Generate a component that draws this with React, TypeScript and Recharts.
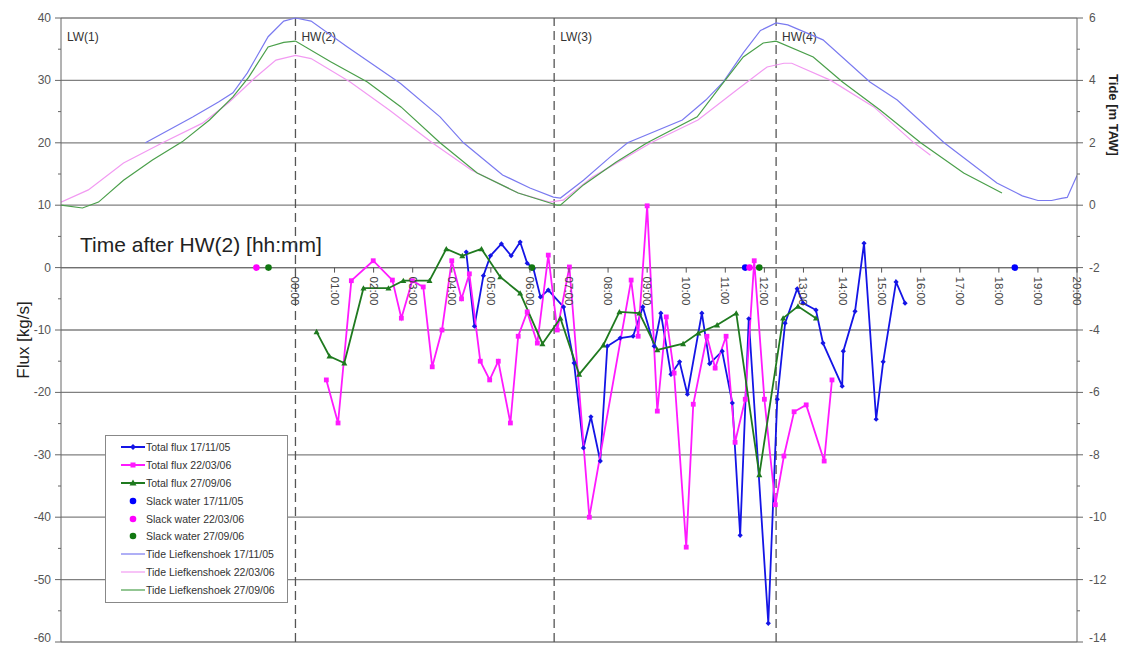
import React from 'react'
import { ComposedChart, Line, XAxis, YAxis, ReferenceLine, Legend } from 'recharts'

// hours after HW(2)
const hourTicks = [0, 1, 2, 3, 4, 5, 6, 7, 8, 9, 10, 11, 12, 13, 14, 15, 16, 17, 18, 19, 20]
const fluxTicks = [-60, -55, -50, -45, -40, -35, -30, -25, -20, -15, -10, -5, 0, 5, 10, 15, 20, 25, 30, 35, 40]
const tideTicks = [-14, -13, -12, -11, -10, -9, -8, -7, -6, -5, -4, -3, -2, -1, 0, 1, 2, 3, 4, 5, 6]
const gridFlux = [-60, -50, -40, -30, -20, -10, 0, 10, 20, 30, 40]
const events = [
  { t: -6, name: 'LW(1)' },
  { t: 0, name: 'HW(2)' },
  { t: 6.62, name: 'LW(3)' },
  { t: 12.3, name: 'HW(4)' },
]

const tideNov = [
  [-3.84, 2.0], [-2.63, 2.83], [-1.97, 3.31], [-1.6, 3.6], [-1.23, 4.24], [-0.7, 5.4], [-0.3, 5.9], [0, 6.0],
  [0.4, 5.9], [1.33, 5.07], [2.69, 3.9], [3.7, 2.83], [4.3, 2.0], [5.3, 0.97], [6.0, 0.55], [6.6, 0.26],
  [6.78, 0.23], [7.37, 0.8], [8.05, 1.54], [8.5, 2.0], [9.9, 2.73], [10.5, 3.37], [10.95, 3.95], [11.46, 4.88],
  [11.9, 5.6], [12.3, 5.84], [12.6, 5.78], [13.5, 5.3], [14.7, 3.95], [15.4, 3.37], [16.6, 2.0], [17.95, 0.71],
  [18.6, 0.3], [19.0, 0.15], [19.35, 0.15], [19.6, 0.22], [19.75, 0.25], [20, 0.95],
]
const tideMar = [
  [-6, 0.1], [-5.3, 0.49], [-4.4, 1.35], [-3.4, 2.0], [-2.38, 2.63], [-1.7, 3.3], [-1.02, 4.1], [-0.5, 4.65],
  [0, 4.8], [0.4, 4.7], [1.4, 3.95], [2.4, 3.05], [3.5, 2.0], [4.5, 1.13], [5.7, 0.39], [6.5, 0.1],
  [6.85, 0.16], [7.6, 0.9], [9.1, 2.0], [10.3, 2.73], [11.3, 3.7], [12.07, 4.43], [12.5, 4.55], [12.7, 4.55],
  [13.7, 4.0], [14.8, 3.15], [15.8, 2.03], [16.25, 1.6],
]
const tideSep = [
  [-6, 0.0], [-5.45, -0.09], [-5.04, 0.1], [-4.4, 0.8], [-3.66, 1.45], [-2.9, 2.03], [-2.2, 2.73], [-1.6, 3.47],
  [-1.2, 4.1], [-0.7, 5.07], [-0.3, 5.22], [0, 5.26], [0.9, 4.6], [1.84, 3.95], [2.7, 3.15], [3.7, 2.0],
  [4.65, 1.03], [5.7, 0.39], [6.7, 0.0], [6.78, 0.0], [7.37, 0.65], [8.2, 1.38], [9.0, 2.0], [10.28, 2.83],
  [10.87, 3.8], [11.46, 4.75], [11.97, 5.2], [12.3, 5.26], [13.25, 4.75], [14.0, 3.95], [14.96, 3.05],
  [16.0, 2.0], [17.1, 1.03], [18.08, 0.39],
]

const fluxNov = [
  [4.37, 2.5], [4.58, -9.4], [4.81, -1.3], [4.99, 1.9], [5.27, 3.8], [5.52, 1.9], [5.75, 4.1], [5.93, 0.7],
  [6.09, -0.2], [6.27, -4.7], [6.47, -3.6], [6.86, -6.3], [7.13, -15.3], [7.37, -28.9], [7.56, -23.9],
  [7.8, -31.0], [7.98, -12.6], [8.31, -11.3], [8.64, -11.0], [8.89, -6.3], [9.18, -12.6], [9.35, -7.3],
  [9.61, -17.1], [9.83, -15.1], [10.03, -20.3], [10.4, -7.3], [10.6, -15.4], [10.92, -13.4], [11.18, -21.7],
  [11.38, -42.9], [11.6, -8.2], [12.1, -57.0], [12.33, -21.1], [12.53, -8.9], [12.84, -3.4], [12.99, -5.7],
  [13.32, -6.8], [13.5, -12.1], [13.99, -19.0], [14.02, -13.4], [14.32, -7.0], [14.55, 3.9], [14.86, -24.3],
  [15.04, -15.1], [15.37, -2.3], [15.6, -5.7],
]
const fluxMar = [
  [0.79, -18.0], [1.09, -24.9], [1.43, -2.1], [1.99, 1.1], [2.48, -2.0], [2.71, -8.1], [2.99, -2.1],
  [3.27, -3.1], [3.5, -15.9], [3.75, -10.0], [4.0, 1.1], [4.25, -5.0], [4.45, -1.0], [4.73, -15.0],
  [4.97, -18.0], [5.19, -15.0], [5.5, -24.9], [5.7, -11.0], [5.93, -7.1], [6.19, -12.1], [6.47, 2.0],
  [6.7, -10.0], [7.01, 0.1], [7.52, -40.0], [8.59, -2.0], [8.77, -11.0], [9.0, 9.9], [9.26, -23.0],
  [9.49, -7.9], [9.69, -16.9], [10.0, -44.8], [10.18, -21.9], [10.53, -11.0], [10.74, -16.1], [11.02, -11.0],
  [11.25, -28.0], [11.51, -21.1], [11.74, 1.1], [12.0, -21.1], [12.28, -38.0], [12.5, -30.2], [12.76, -23.1],
  [13.07, -22.0], [13.53, -31.0], [13.73, -18.0],
]
const fluxSep = [
  [0.54, -10.3], [0.87, -14.2], [1.25, -15.3], [1.74, -3.3], [2.38, -3.3], [2.76, -2.1], [3.43, -2.1],
  [3.86, 3.0], [4.27, 1.9], [4.76, 3.0], [5.24, -1.5], [5.75, -4.1], [6.32, -12.2], [6.78, -8.1],
  [7.26, -17.1], [7.88, -12.4], [8.29, -7.1], [8.8, -7.3], [9.26, -13.2], [9.92, -12.2], [10.31, -10.5],
  [10.79, -9.2], [11.28, -7.3], [11.87, -33.2], [12.48, -8.1], [12.86, -6.2], [13.32, -8.1],
]

const slackNov = [[11.51, 0], [18.41, 0]]
const slackMar = [[-1.0, 0], [11.62, 0]]
const slackSep = [[-0.69, 0], [6.05, 0], [11.87, 0]]

const W = 1122
const H = 646
const PLOT_L = 61
const PLOT_R = 1077
const PLOT_T = 18
const PLOT_B = 642
const ZERO_Y = PLOT_T + 0.4 * (PLOT_B - PLOT_T)

const BLUE = '#1414e6'
const PINK = '#ff1aff'
const GREEN = '#1f7a1f'

const pts = (arr: number[][]) => arr.map(([t, v]) => ({ t, v }))

const diamond = (color: string, s: number) => (p: any) =>
  p.cx == null ? <g key={p.index} /> : (
    <path key={p.index} d={`M${p.cx},${p.cy - s}L${p.cx + s},${p.cy}L${p.cx},${p.cy + s}L${p.cx - s},${p.cy}Z`} fill={color} />
  )
const square = (color: string, s: number) => (p: any) =>
  p.cx == null ? <g key={p.index} /> : <rect key={p.index} x={p.cx - s} y={p.cy - s} width={2 * s} height={2 * s} fill={color} />
const triangle = (color: string, s: number) => (p: any) =>
  p.cx == null ? <g key={p.index} /> : (
    <path key={p.index} d={`M${p.cx},${p.cy - s}L${p.cx + s},${p.cy + s * 0.8}L${p.cx - s},${p.cy + s * 0.8}Z`} fill={color} />
  )
const circle = (color: string, r: number) => (p: any) =>
  p.cx == null ? <g key={p.index} /> : <circle key={p.index} cx={p.cx} cy={p.cy} r={r} fill={color} />

function HourTick({ x, payload }: any) {
  const label = `${String(payload.value).padStart(2, '0')}:00`
  const y0 = ZERO_Y + 9
  return (
    <g>
      <line x1={x} x2={x} y1={ZERO_Y} y2={ZERO_Y + 5} stroke="#555" />
      <text x={x} y={y0} dy={4} transform={`rotate(90, ${x}, ${y0})`} fontSize={11.5} fill="#444" textAnchor="start">
        {label}
      </text>
    </g>
  )
}

// bottom labels sit on the picture edge, lift them a little so they stay whole
const labelDy = (y: number) => (y > PLOT_B - 2 ? 0 : 4)

function FluxTick({ y, payload }: any) {
  const major = payload.value % 10 === 0
  return (
    <g>
      <line x1={PLOT_L - (major ? 6 : 3)} x2={PLOT_L} y1={y} y2={y} stroke="#666" />
      {major && (
        <text x={PLOT_L - 10} y={y} dy={labelDy(y)} textAnchor="end" fontSize={12} fill="#555">{payload.value}</text>
      )}
    </g>
  )
}

function TideTick({ y, payload }: any) {
  const major = payload.value % 2 === 0
  return (
    <g>
      <line x1={PLOT_R} x2={PLOT_R + (major ? 6 : 3)} y1={y} y2={y} stroke="#666" />
      {major && (
        <text x={PLOT_R + 12} y={y} dy={labelDy(y)} textAnchor="start" fontSize={12} fill="#555">{payload.value}</text>
      )}
    </g>
  )
}

const legendItems = [
  { label: 'Total flux 17/11/05', color: BLUE, line: true, mark: 'diamond' },
  { label: 'Total flux 22/03/06', color: PINK, line: true, mark: 'square' },
  { label: 'Total flux 27/09/06', color: GREEN, line: true, mark: 'triangle' },
  { label: 'Slack water 17/11/05', color: '#0000ff', line: false, mark: 'circle' },
  { label: 'Slack water 22/03/06', color: '#ff00ff', line: false, mark: 'circle' },
  { label: 'Slack water 27/09/06', color: '#117711', line: false, mark: 'circle' },
  { label: 'Tide Liefkenshoek 17/11/05', color: '#7a7af0', line: true, mark: '' },
  { label: 'Tide Liefkenshoek 22/03/06', color: '#f29af2', line: true, mark: '' },
  { label: 'Tide Liefkenshoek 27/09/06', color: '#4a9f4a', line: true, mark: '' },
]

function LegendBox() {
  return (
    <div style={{ border: '1px solid #888', background: '#fff', padding: '2px 0 3px 0', width: 181 }}>
      {legendItems.map((it) => (
        <div key={it.label} style={{ display: 'flex', alignItems: 'center', height: 17.9 }}>
          <svg width={40} height={18}>
            {it.line && <line x1={15} x2={39} y1={9} y2={9} stroke={it.color} strokeWidth={it.mark ? 2 : 1.2} />}
            {it.mark === 'diamond' && <path d="M27,6L30,9L27,12L24,9Z" fill={it.color} />}
            {it.mark === 'square' && <rect x={24.5} y={6.5} width={5} height={5} fill={it.color} />}
            {it.mark === 'triangle' && <path d="M27,5.5L30.5,11.5L23.5,11.5Z" fill={it.color} />}
            {it.mark === 'circle' && <circle cx={27} cy={9} r={3.3} fill={it.color} />}
          </svg>
          <span style={{ fontSize: 10.5, color: '#333' }}>{it.label}</span>
        </div>
      ))}
    </div>
  )
}

const eventLabel = (name: string) => (p: any) => (
  <text x={p.viewBox.x + 6} y={p.viewBox.y + 23} fontSize={12} fill="#333">{name}</text>
)

export default function App() {
  return (
    <div style={{ position: 'absolute', left: 0, top: 0, fontFamily: '"Liberation Sans", Arial, sans-serif', background: '#fff' }}>
      <ComposedChart width={W} height={H} margin={{ top: PLOT_T, right: 15, bottom: 3, left: 21 }}>
        <XAxis
          dataKey="t"
          type="number"
          domain={[-6, 20]}
          ticks={hourTicks}
          interval={0}
          height={1}
          axisLine={false}
          tickLine={false}
          tick={<HourTick />}
          allowDataOverflow
        />
        <YAxis
          yAxisId="flux"
          orientation="left"
          type="number"
          domain={[-60, 40]}
          ticks={fluxTicks}
          interval={0}
          width={40}
          axisLine={{ stroke: '#666' }}
          tickLine={false}
          tick={<FluxTick />}
          label={{
            content: () => (
              <text x={29} y={340} transform="rotate(-90, 29, 340)" textAnchor="middle" fontSize={17} fill="#222">
                Flux [kg/s]
              </text>
            ),
          }}
        />
        <YAxis
          yAxisId="tide"
          orientation="right"
          type="number"
          domain={[-14, 6]}
          ticks={tideTicks}
          interval={0}
          width={30}
          axisLine={{ stroke: '#666' }}
          tickLine={false}
          tick={<TideTick />}
          label={{
            content: () => (
              <text x={1112} y={115} transform="rotate(90, 1112, 115)" textAnchor="middle" dominantBaseline="middle" fontSize={13} fontWeight="bold" fill="#222">
                Tide [m TAW]
              </text>
            ),
          }}
        />
        {gridFlux.map((v) => (
          <ReferenceLine key={v} yAxisId="flux" y={v} stroke="#808080" strokeWidth={1.3} />
        ))}
        <ReferenceLine
          yAxisId="flux"
          y={0}
          stroke="#707070"
          strokeWidth={1.3}
          label={{
            content: (p: any) => (
              <text x={p.viewBox.x + 19} y={p.viewBox.y - 16} fontSize={21} fill="#222">Time after HW(2) [hh:mm]</text>
            ),
          }}
        />
        {events.map((e) => (
          <ReferenceLine
            key={e.name}
            yAxisId="flux"
            x={e.t}
            stroke={e.t === -6 ? 'none' : '#555'}
            strokeWidth={1.3}
            strokeDasharray="9 5"
            label={{ content: eventLabel(e.name) }}
          />
        ))}

        <Line yAxisId="tide" data={pts(tideNov)} dataKey="v" stroke="#7a7af0" strokeWidth={1.2} dot={false} activeDot={false} isAnimationActive={false} />
        <Line yAxisId="tide" data={pts(tideMar)} dataKey="v" stroke="#f29af2" strokeWidth={1.2} dot={false} activeDot={false} isAnimationActive={false} />
        <Line yAxisId="tide" data={pts(tideSep)} dataKey="v" stroke="#4a9f4a" strokeWidth={1.2} dot={false} activeDot={false} isAnimationActive={false} />

        <Line yAxisId="flux" data={pts(fluxNov)} dataKey="v" stroke={BLUE} strokeWidth={1.8} dot={diamond(BLUE, 2.6)} activeDot={false} isAnimationActive={false} />
        <Line yAxisId="flux" data={pts(fluxMar)} dataKey="v" stroke={PINK} strokeWidth={1.8} dot={square(PINK, 2.4)} activeDot={false} isAnimationActive={false} />
        <Line yAxisId="flux" data={pts(fluxSep)} dataKey="v" stroke={GREEN} strokeWidth={1.8} dot={triangle(GREEN, 3)} activeDot={false} isAnimationActive={false} />

        <Line yAxisId="flux" data={pts(slackNov)} dataKey="v" stroke="none" dot={circle('#0000ff', 3.3)} activeDot={false} isAnimationActive={false} />
        <Line yAxisId="flux" data={pts(slackMar)} dataKey="v" stroke="none" dot={circle('#ff00ff', 3.3)} activeDot={false} isAnimationActive={false} />
        <Line yAxisId="flux" data={pts(slackSep)} dataKey="v" stroke="none" dot={circle('#117711', 3.3)} activeDot={false} isAnimationActive={false} />

        <Legend
          layout="vertical"
          align="center"
          verticalAlign="middle"
          content={() => <LegendBox />}
          wrapperStyle={{ left: 105, top: 435, width: 183 }}
        />
      </ComposedChart>
    </div>
  )
}
